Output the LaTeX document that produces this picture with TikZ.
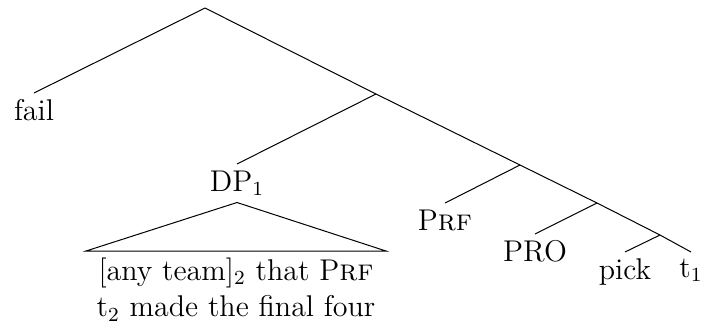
\documentclass[tikz,border=0pt,12pt]{standalone}
\begin{document}
\begin{tikzpicture}[x=0.4pt, y=-0.4pt, leaf/.style={anchor=north, inner sep=2.5pt}]
		\useasboundingbox (0, 0) rectangle (705, 322);

		% branch points along the spine
		\coordinate (root) at (205, 8);
		\coordinate (n1) at (376, 94);
		\coordinate (n2) at (520, 165);
		\coordinate (n3) at (597, 203);
		\coordinate (n4) at (660, 235);

		\node [leaf] (fail) at (34, 93) {fail};
		\node [leaf] (dp) at (237, 164) {DP$_1$};
		\node [leaf] (prf) at (445, 203) {P\textsc{rf}};
		\node [leaf] (pro) at (535, 234) {PRO};
		\node [leaf] (pick) at (625, 252) {pick};
		\node [leaf] (t1) at (691, 252) {t$_1$};

		\draw (root) -- (fail.north);
		\draw (root) -- (n1) -- (n2) -- (n3) -- (n4) -- (t1.north);
		\draw (n1) -- (dp.north);
		\draw (n2) -- (prf.north);
		\draw (n3) -- (pro.north);
		\draw (n4) -- (pick.north);

		% roof over the relative clause
		\coordinate (tl) at (86, 251);
		\coordinate (tr) at (386, 251);
		\draw (dp.south) -- (tl) -- (tr) -- cycle;
		\node [leaf, align=center] (rc) at (236, 251) {[any team]$_2$ that P\textsc{rf}\\t$_2$ made the final four};
	\end{tikzpicture}
\end{document}
